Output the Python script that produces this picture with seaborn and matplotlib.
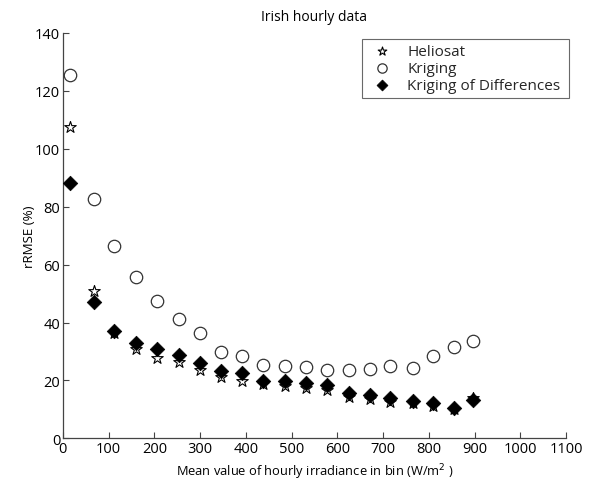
import matplotlib
matplotlib.use("Agg")
import matplotlib.pyplot as plt
import seaborn as sns
import pandas as pd

bin_means = [15, 68, 112, 159, 206, 253, 300, 346, 391, 438, 485, 532, 578, 625, 671, 716, 765, 809, 854, 897]
heliosat = [107.4, 50.9, 36.3, 30.7, 27.8, 26.2, 23.6, 21.1, 19.9, 18.8, 18.2, 17.3, 16.6, 14.2, 13.6, 12.6, 12.2, 11.3, 10.1, 14.0]
kriging = [125.5, 82.7, 66.5, 55.6, 47.5, 41.2, 36.3, 29.7, 28.3, 25.3, 24.9, 24.5, 23.6, 23.5, 23.8, 24.9, 24.2, 28.4, 31.5, 33.6]
kriging_diff = [88.1, 47.2, 37.0, 33.0, 30.8, 28.8, 25.9, 23.1, 22.6, 19.9, 19.7, 19.1, 18.4, 15.6, 15.1, 13.8, 12.9, 12.3, 10.4, 13.2]
series_names = ["Heliosat", "Kriging", "Kriging of Differences"]
x_ticks = [0, 100, 200, 300, 400, 500, 600, 700, 800, 900, 1000, 1100]
y_ticks = [0, 20, 40, 60, 80, 100, 120, 140]

sns.set_theme(style="white")
plt.rcParams['font.family'] = ['Open Sans', 'DejaVu Sans']

df = pd.DataFrame({
    "x": bin_means * 3,
    "y": heliosat + kriging + kriging_diff,
    "series": [series_names[0]] * len(bin_means) + [series_names[1]] * len(bin_means) + [series_names[2]] * len(bin_means),
})

fig = plt.figure(figsize=(5.97, 4.89), dpi=100)
ax = fig.add_axes([0.1054, 0.1016, 0.8427, 0.8289])

styles = {
    "Heliosat": dict(marker="*", s=75, facecolor="white", edgecolor="black", linewidth=0.8, zorder=3),
    "Kriging": dict(marker="o", s=80, facecolor="white", edgecolor="#333333", linewidth=0.9, zorder=3),
    "Kriging of Differences": dict(marker="D", s=55, color="black", edgecolor="black", linewidth=0.5, zorder=4),
}
for name in series_names:
    sub = df[df["series"] == name]
    sns.scatterplot(data=sub, x="x", y="y", ax=ax, label=name, legend=False, **styles[name])

ax.set_xlim(0, 1100)
ax.set_ylim(0, 140)
ax.set_xticks(x_ticks)
ax.set_yticks(y_ticks)
ax.tick_params(axis="both", direction="in", length=4, width=0.8, color="#444444",
               labelsize=10.5, pad=2, labelcolor="black", bottom=True, left=True)
for side in ["top", "right"]:
    ax.spines[side].set_visible(False)
for side in ["left", "bottom"]:
    ax.spines[side].set_color("#444444")
    ax.spines[side].set_linewidth(0.9)

ax.set_title("Irish hourly data", fontsize=10, pad=9, color="black")
ax.set_xlabel("Mean value of hourly irradiance in bin (W/m$^2$ )", fontsize=9.3, labelpad=4, color="black")
ax.set_ylabel("rRMSE (%)", fontsize=9.6, color="black")
ax.yaxis.set_label_coords(-0.053, 0.5)

handles, labels = ax.get_legend_handles_labels()
leg = fig.legend(handles, labels, loc="upper left", bbox_to_anchor=(0.6064, 0.80, 0.3467, 0.118),
                 mode="expand", frameon=True, fancybox=False, fontsize=11, handletextpad=0.65,
                 borderpad=0.3, labelspacing=0.15, markerscale=0.75, handlelength=2.0,
                 borderaxespad=0.0)
leg.get_frame().set_edgecolor("#444444")
leg.get_frame().set_linewidth(0.8)

fig.savefig("out.png", dpi=100, facecolor="white")
